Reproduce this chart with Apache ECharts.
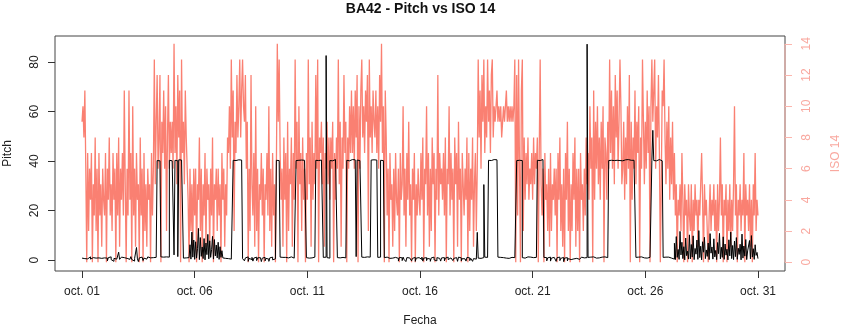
<!DOCTYPE html>
<html><head><meta charset="utf-8">
<script src="https://cdn.jsdelivr.net/npm/echarts@6/dist/echarts.min.js"></script>
<style>html,body{margin:0;padding:0;background:#fff}#c{width:841px;height:328px}</style>
</head><body><div id="c"></div>
<script>
const chartTitle = 'BA42 - Pitch vs ISO 14';
const xName = 'Fecha';
const leftName = 'Pitch';
const rightName = 'ISO 14';
// x in days since oct. 01 00:00, one sample per hour
const tickDays = [0, 5, 10, 15, 20, 25, 30];
const tickLabels = ['oct. 01', 'oct. 06', 'oct. 11', 'oct. 16', 'oct. 21', 'oct. 26', 'oct. 31'];
const pitchTicks = [0, 20, 40, 60, 80];
const isoTicks = [0, 2, 4, 6, 8, 10, 12, 14];

// Pitch, hourly values per day (oct. 01 .. oct. 30)
const pitchDays = [
[0.8,1.0,0.6,1.2,0.9,0.5,1.1,0.7,1.3,0.4,0.9,1.0,0.6,1.2,0.8,0.3,1.1,0.9,0.5,1.4,0.7,1.0,0.6,0.9],
[1.2,0.4,0.8,-0.3,1.0,0.6,1.3,0.2,0.9,-0.5,0.7,1.1,0.4,0.8,0.5,3.2,0.3,0.9,1.2,0.6,1.0,0.8,1.3,0.7],
[0.6,1.1,0.3,0.9,1.4,0.2,0.8,-0.4,0.7,1.0,5.1,0.5,-0.6,0.9,0.3,1.2,0.6,-0.2,0.8,1.1,0.4,0.9,1.3,0.7],
[0.9,1.2,0.6,1.0,1.4,0.8,1.1,1.5,40.2,40.6,40.1,40.4,1.3,1.0,1.2,0.9,1.1,1.3,0.8,1.0,1.2,40.3,40.5,40.1],
[40.4,40.2,2.1,40.3,40.6,40.1,1.4,40.5,40.2,40.4,40.1,40.3,0.8,1.1,0.9,1.2,0.7,1.0,0.9,6.2,0.4,11.3,1.2,8.1],
[0.3,7.4,0.8,4.6,12.8,0.2,9.1,1.5,5.3,0.6,8.7,0.1,6.9,2.2,10.4,0.5,7.8,1.1,4.2,9.6,0.4,8.3,1.7,6.1],
[0.9,7.2,0.3,5.4,1.1,3.8,0.9,1.2,0.7,1.0,1.3,0.6,0.9,1.1,0.4,0.8,1.0,40.3,40.6,40.2,40.4,40.1,40.5,40.3],
[40.2,40.4,40.1,0.6,1.2,-0.3,0.9,0.4,1.3,-0.5,0.7,1.0,0.2,1.1,-0.4,0.8,0.5,1.2,-0.2,0.9,0.3,1.0,0.6,-0.6],
[0.8,0.2,1.1,-0.3,0.7,1.0,0.4,-0.5,0.9,0.6,1.2,0.1,0.8,0.5,1.0,40.3,40.6,40.2,40.5,1.2,0.9,1.1,0.7,1.0],
[1.1,0.8,1.2,0.9,1.0,0.7,1.3,0.9,1.1,0.8,1.0,1.2,40.2,40.5,40.3,40.1,40.6,40.4,40.2,40.5,40.3,40.1,40.4,1.0],
[1.2,0.8,1.0,1.3,0.9,1.1,0.7,1.2,1.0,40.3,40.5,40.2,40.6,40.1,40.4,40.3,40.5,1.1,0.9,1.2,82.6,1.0,1.3,0.8],
[40.2,40.4,40.1,40.5,40.3,40.6,40.2,40.4,1.0,1.2,0.9,1.3,0.8,1.1,1.0,1.2,0.9,1.1,40.3,40.5,40.1,40.4,40.2,40.6],
[40.3,40.1,40.5,40.2,1.4,40.4,40.6,40.2,40.3,40.1,1.2,0.9,1.1,0.8,1.0,1.3,0.9,1.1,1.2,0.8,40.4,40.2,40.5,40.3],
[40.1,40.4,40.2,1.1,0.9,1.2,40.3,40.5,40.2,40.4,1.0,0.8,1.2,0.9,1.1,0.7,1.3,1.0,0.8,1.2,0.9,1.1,0.6,1.0],
[0.7,-0.4,1.1,0.5,0.9,-0.2,1.2,0.3,0.8,-0.6,1.0,0.4,0.9,0.2,1.3,-0.3,0.7,0.6,1.1,-0.5,0.8,0.4,1.0,0.2],
[0.9,0.3,1.2,-0.4,0.8,0.5,1.0,-0.2,0.7,1.1,0.4,-0.5,0.9,0.6,1.2,0.1,0.8,-0.3,1.0,0.5,0.7,1.1,-0.4,0.9],
[0.6,1.0,-0.3,0.8,0.4,1.2,0.2,-0.6,0.9,0.5,1.1,-0.2,0.7,0.3,1.0,0.8,-0.5,1.2,0.4,0.9,-0.3,0.6,1.0,0.5],
[0.8,-0.4,1.1,0.3,0.9,-0.2,0.7,1.2,-0.5,0.6,1.0,0.4,0.9,11.2,0.8,1.1,0.7,1.3,0.9,1.0,30.5,1.2,0.8,1.1],
[1.0,40.3,40.5,40.2,40.4,40.1,40.6,40.3,40.2,40.5,40.1,1.2,0.9,1.1,0.8,1.3,1.0,0.9,1.2,0.8,1.1,1.0,0.7,1.2],
[0.9,1.1,0.8,1.2,1.0,0.9,1.3,40.2,40.5,40.3,40.1,40.4,40.2,1.0,1.2,0.8,1.1,0.9,1.3,1.0,0.8,1.2,0.9,1.1],
[1.0,1.2,0.8,1.1,0.9,40.3,40.5,40.2,40.4,40.1,40.6,40.3,1.1,0.7,1.0,-0.3,0.9,0.5,1.2,-0.4,0.8,0.3,1.1,0.6],
[0.9,-0.5,1.0,0.4,1.2,-0.2,0.7,0.5,1.1,-0.6,0.8,0.3,1.0,-0.3,0.6,1.2,0.2,-0.4,0.9,0.5,1.1,-0.2,0.7,0.4],
[1.0,0.3,-0.4,0.8,1.2,0.5,0.9,1.1,0.7,1.0,87.2,1.1,0.9,1.2,0.8,1.0,1.3,0.9,1.1,0.8,1.2,1.0,0.9,1.1],
[0.8,1.2,1.0,0.9,1.3,1.1,0.8,1.0,1.2,40.2,40.4,40.3,40.1,40.5,40.2,40.4,40.6,40.3,40.1,40.4,40.2,40.5,40.3,40.1],
[40.4,40.2,40.5,40.3,40.1,40.6,40.2,40.4,40.3,40.5,40.1,40.3,40.2,40.4,1.1,0.9,1.2,1.0,0.8,1.3,1.0,1.1,0.9,1.2],
[1.0,0.8,1.2,0.9,1.1,1.0,1.3,40.3,52.4,40.2,40.5,40.1,40.4,40.3,40.6,40.2,40.4,40.1,40.5,1.1,0.9,1.2,0.8,1.0],
[1.2,0.9,1.1,0.8,1.0,1.3,0.4,6.8,0.2,9.5,1.1,4.3,0.3,11.6,2.1,7.2,0.6,5.4,0.1,8.9,1.8,3.6,0.4,10.2],
[0.5,6.3,1.2,9.8,0.2,4.7,2.4,8.1,0.3,11.9,1.0,5.6,0.1,7.4,3.2,9.2,0.6,4.1,1.5,6.9,0.2,10.7,2.8,5.3],
[0.4,8.6,1.3,3.9,0.2,7.1,2.6,10.8,0.5,5.2,1.1,9.4,0.3,6.5,2.0,4.4,0.1,8.2,1.7,11.3,0.6,5.9,0.2,7.7],
[1.4,9.1,0.3,4.8,2.3,6.4,0.1,10.5,0.8,5.7,1.6,8.3,0.2,3.7,2.9,7.9,0.5,9.9,1.2,4.6,0.3,6.2,1.9,3.1]
];
const pitchLast = [0.6];

// ISO 14, hourly values per day (oct. 01 .. oct. 30)
const isoDays = [
[9,10,8,11,6,0,7,2,6,4,7,0,5,3,8,2,6,0,7,3,5,1,6,4],
[3,7,0,6,4,8,3,5,2,7,4,6,0,7,3,8,1,6,4,7,3,11,5,0],
[6,3,11,4,7,0,10,3,6,1,7,4,5,0,8,3,6,0,7,2,5,1,6,4],
[5,0,7,3,6,13,5,9,12,6,8,12,0,9,7,11,6,10,2,8,12,6,9,7],
[9,6,14,7,10,5,12,8,11,0,13,7,9,5,11,8,6,4,0,6,2,5,1,6],
[3,6,0,5,4,8,2,6,0,5,3,7,1,6,4,5,1,6,3,8,0,5,4,6],
[2,6,3,5,0,7,4,6,1,5,3,8,7,10,6,13,8,11,2,9,7,12,8,10],
[13,8,11,13,10,9,12,6,9,0,6,2,12,5,3,7,1,10,2,6,0,5,4,7],
[3,6,0,5,4,7,3,10,2,6,1,7,3,5,0,6,14,9,13,7,4,6,1,8],
[4,7,0,9,2,6,5,8,1,7,4,13,6,9,0,10,5,7,2,8,4,6,0,7],
[4,13,5,8,1,9,4,7,5,12,6,13,0,8,7,9,5,8,1,7,6,9,5,8],
[4,8,6,9,0,7,4,8,6,13,5,9,1,8,6,12,7,9,0,8,6,10,7,11],
[7,10,6,11,8,12,0,10,6,11,13,8,10,7,11,9,12,2,13,8,10,7,11,9],
[8,11,7,10,6,12,9,14,7,10,0,11,8,3,6,0,7,4,5,1,6,2,7,4],
[3,6,0,7,4,5,10,3,6,1,7,4,9,3,5,0,6,4,7,0,5,3,6,4],
[3,7,4,8,0,6,5,10,3,7,1,6,2,8,5,7,0,6,4,12,3,7,5,6],
[4,7,3,8,0,6,5,10,3,7,4,6,0,8,5,7,1,9,4,6,0,7,5,3],
[6,4,8,0,7,2,6,4,8,1,5,7,2,6,13,8,11,6,12,9,13,7,10,8],
[13,9,11,7,12,13,8,10,9,10,11,9,10,9,10,8,9,10,9,10,11,9,10,9],
[10,9,10,9,10,13,0,12,3,13,6,0,11,13,2,8,4,7,5,8,4,6,5,7],
[4,8,5,7,6,8,0,7,13,5,3,6,0,7,4,5,2,6,1,7,2,5,4,6],
[3,6,0,7,4,8,2,5,1,6,0,7,4,9,2,6,0,5,2,7,4,8,1,6],
[2,6,0,7,4,5,2,6,3,8,5,7,4,10,6,8,0,11,4,9,6,10,5,8],
[4,9,6,10,0,8,7,4,9,6,13,7,11,6,10,5,12,8,11,6,9,13,10,5],
[6,9,4,8,5,10,6,12,0,9,4,8,6,11,5,9,7,10,0,8,6,13,9,5],
[9,6,11,7,10,0,10,13,9,11,13,6,10,8,12,7,0,5,11,10,13,8,5,9],
[6,10,4,8,5,9,4,7,3,5,0,4,3,5,2,7,4,0,5,3,4,0,5,3],
[2,5,0,4,2,5,3,4,1,4,3,5,7,4,0,5,3,4,2,0,3,5,2,4],
[3,5,2,4,0,5,2,4,8,3,5,0,4,3,5,0,4,2,5,1,4,2,5,10],
[3,5,0,4,3,5,2,4,3,7,0,5,3,4,2,5,1,4,0,5,3,7,2,4]
];
const isoLast = [3];

const pitch = pitchDays.flat().concat(pitchLast);
const iso = isoDays.flat().concat(isoLast);
const pitchData = pitch.map((v, i) => [i / 24, v]);
const isoData = iso.map((v, i) => [i / 24, v]);

const FONT = 'Liberation Sans, Arial, sans-serif';
const SALMON = '#FA8072';
const SALMON_LIGHT = '#f9a89f';
const xMin = -1.2, xMax = 31.2;

const chart = echarts.init(document.getElementById('c'), null, {renderer: 'canvas'});
chart.setOption({
  animation: false,
  backgroundColor: '#fff',
  textStyle: {fontFamily: FONT},
  title: {
    text: chartTitle, left: 'center', top: 2, padding: 0,
    textStyle: {fontFamily: FONT, fontSize: 14, fontWeight: 'bold', color: '#111'}
  },
  grid: {left: 55, right: 56, top: 36, bottom: 57, show: true, borderColor: '#444', borderWidth: 1,
    backgroundColor: 'transparent', containLabel: false, outerBoundsMode: 'none'},
  xAxis: {
    type: 'value', min: xMin, max: xMax,
    name: xName, nameLocation: 'middle', nameGap: 44,
    nameTextStyle: {fontFamily: FONT, fontSize: 12, color: '#222'},
    axisLine: {show: false, onZero: false},
    splitLine: {show: false},
    axisTick: {show: true, customValues: tickDays, length: 7, lineStyle: {color: '#333'}},
    axisLabel: {customValues: tickDays, margin: 15, fontSize: 12, color: '#222', fontFamily: FONT,
      formatter: v => tickLabels[tickDays.indexOf(v)]}
  },
  yAxis: [{
    type: 'value', min: -4.4, max: 90.5, position: 'left',
    name: leftName, nameLocation: 'middle', nameRotate: 90, nameGap: 41,
    nameTextStyle: {fontFamily: FONT, fontSize: 12, color: '#222'},
    axisLine: {show: false, onZero: false}, splitLine: {show: false},
    axisTick: {show: true, customValues: pitchTicks, length: 7, lineStyle: {color: '#333'}},
    axisLabel: {customValues: pitchTicks, rotate: 90, margin: 14, fontSize: 12, color: '#222', fontFamily: FONT}
  }, {
    type: 'value', min: -0.56, max: 14.5, position: 'right',
    name: rightName, nameLocation: 'middle', nameRotate: 90, nameGap: 45,
    nameTextStyle: {fontFamily: FONT, fontSize: 12, color: SALMON_LIGHT},
    axisLine: {show: false, onZero: false}, splitLine: {show: false},
    axisTick: {show: true, customValues: isoTicks, length: 7, lineStyle: {color: '#fcb6ae'}},
    axisLabel: {customValues: isoTicks, rotate: 90, margin: 16, fontSize: 12, color: SALMON_LIGHT, fontFamily: FONT}
  }],
  series: [{
    name: rightName, type: 'line', yAxisIndex: 1, data: isoData, step: 'end',
    showSymbol: false, symbol: 'none', sampling: null, z: 2,
    lineStyle: {color: SALMON, width: 1.3}, itemStyle: {color: SALMON}
  }, {
    name: leftName, type: 'line', yAxisIndex: 0, data: pitchData, step: 'end',
    showSymbol: false, symbol: 'none', z: 3,
    lineStyle: {color: '#000', width: 1}, itemStyle: {color: '#000'}
  }]
});
const xr = chart.convertToPixel({xAxisIndex: 0}, xMax);
const yb = chart.convertToPixel({yAxisIndex: 1}, isoTicks[0]);
const yt = chart.convertToPixel({yAxisIndex: 1}, isoTicks[isoTicks.length - 1]);
chart.setOption({graphic: [{type: 'line', silent: true, z: 100,
  shape: {x1: xr, y1: yb, x2: xr, y2: yt}, style: {stroke: '#fcb6ae', lineWidth: 1}}]});
</script></body></html>
